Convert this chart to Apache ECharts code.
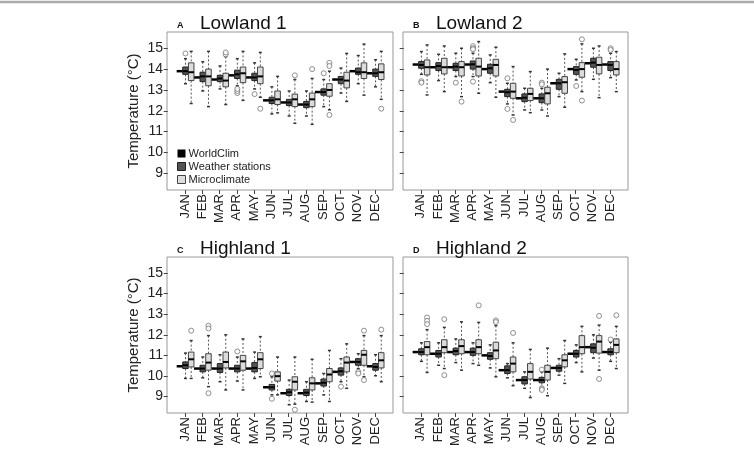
<!DOCTYPE html>
<html>
<head>
<meta charset="utf-8">
<script src="https://cdn.jsdelivr.net/npm/echarts@6/dist/echarts.min.js"></script>
<style>
  html, body { margin: 0; padding: 0; background: #fff; }
  #chart { width: 754px; height: 459px; }
</style>
</head>
<body>
<div id="chart"></div>
<script>
// month labels and y tick values
var months = ["JAN", "FEB", "MAR", "APR", "MAY", "JUN", "JUL", "AUG", "SEP", "OCT", "NOV", "DEC"];
var monthIdx = [1, 2, 3, 4, 5, 6, 7, 8, 9, 10, 11, 12];
var yTicks = [9, 10, 11, 12, 13, 14, 15];

// box rows are [lower whisker, q1, median, q3, upper whisker]; outliers are [month, value]
// --- A Lowland 1
var wcA = [13.9, 13.6, 13.5, 13.7, 13.6, 12.5, 12.4, 12.3, 12.9, 13.5, 13.9, 13.8];
var wsA = [
  [13.3, 13.75, 13.9, 14.1, 14.5], [12.95, 13.4, 13.65, 13.85, 14.35], [13.05, 13.4, 13.55, 13.7, 14.15],
  [13.2, 13.55, 13.75, 13.95, 14.5], [13.05, 13.45, 13.6, 13.8, 14.3], [11.85, 12.35, 12.5, 12.65, 13.15],
  [11.75, 12.25, 12.4, 12.55, 12.95], [11.75, 12.15, 12.3, 12.45, 12.95], [12.2, 12.75, 12.9, 13.05, 13.5],
  [12.85, 13.3, 13.5, 13.65, 14.05], [13.3, 13.75, 13.85, 14.05, 14.65], [13.15, 13.65, 13.8, 14.0, 14.45]
];
var wsOutA = [[1, 14.75], [4, 12.85], [4, 12.95], [4, 13.05], [5, 12.8], [9, 13.8]];
var mcA = [
  [12.35, 13.45, 13.85, 14.3, 14.85], [12.2, 13.2, 13.65, 14.0, 14.85], [12.3, 13.15, 13.45, 13.8, 14.6],
  [12.5, 13.35, 13.8, 14.1, 14.85], [12.65, 13.3, 13.65, 14.1, 14.8], [11.9, 12.3, 12.55, 12.95, 13.65],
  [11.4, 12.2, 12.55, 12.8, 13.5], [11.35, 12.2, 12.55, 12.85, 13.55], [12.05, 12.7, 13.0, 13.3, 13.9],
  [12.45, 13.1, 13.45, 13.85, 14.75], [12.75, 13.55, 13.85, 14.3, 15.2], [12.55, 13.5, 13.85, 14.25, 14.85]
];
var mcOutA = [[3, 14.7], [3, 14.8], [5, 12.1], [7, 13.7], [8, 14.0], [9, 14.3], [9, 14.15], [9, 11.8], [12, 12.1]];

// --- B Lowland 2
var wcB = [14.22, 14.09, 14.09, 14.22, 14.0, 12.92, 12.6, 12.6, 13.32, 14.0, 14.28, 14.22];
var wsB = [
  [13.75, 14.04, 14.2, 14.36, 14.84], [13.45, 13.93, 14.15, 14.31, 14.71], [13.64, 13.93, 14.12, 14.28, 14.76],
  [13.64, 14.0, 14.23, 14.39, 14.76], [13.35, 13.8, 14.04, 14.23, 14.68], [12.33, 12.68, 12.89, 13.03, 13.32],
  [12.04, 12.44, 12.63, 12.81, 13.08], [12.04, 12.39, 12.6, 12.81, 13.08], [12.68, 13.03, 13.32, 13.51, 13.8],
  [13.48, 13.75, 13.96, 14.12, 14.47], [13.51, 14.09, 14.31, 14.52, 15.0], [13.59, 13.93, 14.2, 14.36, 14.76]
];
var wsOutB = [[1, 13.42], [1, 13.35], [3, 13.35], [4, 15.1], [4, 15.0], [4, 14.95], [4, 13.4], [6, 13.56], [6, 12.09],
  [8, 13.35], [8, 13.27], [10, 13.19], [12, 15.0], [12, 14.92]];
var mcB = [
  [12.76, 13.72, 14.09, 14.44, 15.16], [12.92, 13.77, 14.09, 14.52, 15.11], [12.68, 13.67, 14.09, 14.36, 15.0],
  [12.84, 13.67, 14.12, 14.52, 15.32], [12.65, 13.67, 14.2, 14.47, 15.05], [11.8, 12.6, 12.92, 13.32, 14.12],
  [11.91, 12.49, 12.81, 13.08, 13.88], [11.75, 12.33, 12.84, 13.13, 14.0], [12.17, 12.84, 13.37, 13.64, 14.73],
  [12.92, 13.61, 14.0, 14.31, 15.21], [12.63, 13.77, 14.2, 14.57, 15.11], [12.92, 13.72, 14.0, 14.36, 14.84]
];
var mcOutB = [[3, 12.44], [6, 11.56], [10, 15.43], [10, 12.49]];

// --- C Highland 1
var wcC = [10.47, 10.36, 10.36, 10.36, 10.36, 9.45, 9.16, 9.16, 9.64, 10.2, 10.68, 10.47];
var wsC = [
  [9.88, 10.36, 10.52, 10.68, 11.11], [9.91, 10.2, 10.36, 10.52, 10.92], [9.72, 10.17, 10.36, 10.6, 11.03],
  [9.75, 10.2, 10.36, 10.52, 10.92], [9.88, 10.2, 10.39, 10.65, 11.16], [9.08, 9.32, 9.45, 9.59, 9.96],
  [8.6, 9.05, 9.21, 9.35, 9.8], [8.76, 9.05, 9.19, 9.35, 9.72], [9.08, 9.51, 9.67, 9.85, 10.12],
  [9.72, 10.04, 10.23, 10.39, 10.84], [10.36, 10.52, 10.68, 10.84, 11.08], [10.01, 10.28, 10.44, 10.6, 11.03]
];
var wsOutC = [[4, 11.19], [6, 10.12], [6, 8.89], [10, 9.48], [11, 10.2], [11, 10.12]];
var mcC = [
  [9.88, 10.44, 10.81, 11.16, 11.72], [9.48, 10.28, 10.65, 11.08, 11.96], [9.32, 10.39, 10.68, 11.16, 12.0],
  [9.32, 10.28, 10.71, 11.0, 11.8], [9.96, 10.36, 10.81, 11.13, 11.91], [9.08, 9.75, 9.99, 10.2, 10.92],
  [8.63, 9.32, 9.72, 9.96, 10.92], [8.73, 9.32, 9.64, 9.91, 10.81], [8.76, 9.72, 10.07, 10.36, 11.24],
  [9.4, 10.2, 10.65, 10.92, 11.56], [9.96, 10.52, 11.03, 11.24, 11.96], [9.72, 10.39, 10.76, 11.13, 11.96]
];
var mcOutC = [[1, 12.2], [2, 12.44], [2, 12.31], [2, 9.16], [7, 8.36], [11, 12.2], [11, 9.8], [12, 12.25]];

// --- D Highland 2
var wcD = [11.16, 11.08, 11.16, 11.16, 11.0, 10.28, 9.8, 9.8, 10.39, 11.08, 11.4, 11.16];
var wsD = [
  [10.71, 11.03, 11.16, 11.32, 11.61], [10.52, 10.92, 11.08, 11.24, 11.61], [10.65, 11.03, 11.21, 11.35, 11.8],
  [10.6, 11.0, 11.16, 11.35, 11.61], [10.39, 10.81, 10.97, 11.13, 11.51], [9.91, 10.12, 10.28, 10.49, 10.6],
  [9.4, 9.61, 9.8, 9.96, 10.2], [9.48, 9.67, 9.8, 9.93, 10.2], [10.04, 10.23, 10.39, 10.52, 10.84],
  [10.65, 10.92, 11.08, 11.24, 11.51], [10.87, 11.13, 11.37, 11.56, 12.0], [10.71, 11.03, 11.16, 11.32, 11.64]
];
var wsOutD = [[8, 10.31], [8, 9.4], [8, 9.32], [12, 11.77]];
var mcD = [
  [10.17, 11.03, 11.4, 11.67, 12.25], [10.36, 11.13, 11.4, 11.76, 12.36], [10.28, 11.08, 11.45, 11.76, 12.63],
  [10.52, 11.08, 11.4, 11.76, 12.6], [9.96, 10.84, 11.24, 11.64, 12.45], [9.53, 10.2, 10.6, 10.92, 11.61],
  [8.95, 9.85, 10.2, 10.6, 11.29], [9.04, 9.8, 10.2, 10.52, 11.35], [9.64, 10.44, 10.76, 11.03, 11.72],
  [10.2, 11.08, 11.4, 11.96, 12.41], [10.28, 11.11, 11.67, 11.96, 12.47], [10.36, 11.13, 11.51, 11.8, 12.41]
];
var mcOutD = [[1, 12.84], [1, 12.68], [1, 12.52], [2, 12.76], [2, 10.04], [4, 13.43], [5, 12.7], [5, 12.62],
  [6, 12.09], [11, 12.92], [11, 9.85], [12, 12.95]];

var panels = [
  { letter: "A", name: "Lowland 1", wc: wcA, ws: wsA, wsOut: wsOutA, mc: mcA, mcOut: mcOutA },
  { letter: "B", name: "Lowland 2", wc: wcB, ws: wsB, wsOut: wsOutB, mc: mcB, mcOut: mcOutB },
  { letter: "C", name: "Highland 1", wc: wcC, ws: wsC, wsOut: wsOutC, mc: mcC, mcOut: mcOutC },
  { letter: "D", name: "Highland 2", wc: wcD, ws: wsD, wsOut: wsOutD, mc: mcD, mcOut: mcOutD }
];

var WC_OFF = -0.3, WS_OFF = 0.03, MC_OFF = 0.36, BOX_W = 0.32;
var FONT = "Liberation Sans, Arial, sans-serif";
var grids = [
  { left: 167, top: 32, width: 226, height: 158 },
  { left: 403, top: 32, width: 225, height: 158 },
  { left: 167, top: 257, width: 226, height: 156 },
  { left: 403, top: 257, width: 225, height: 156 }
];

function boxRender(off, fill, stroke) {
  return function (params, api) {
    var m = api.value(0);
    var c = function (v) { return api.coord([m + off, v]); };
    var w = api.size([BOX_W, 0])[0];
    var lo = c(api.value(1)), q1 = c(api.value(2)), md = c(api.value(3)),
      q3 = c(api.value(4)), hi = c(api.value(5));
    var x = md[0];
    var dash = { stroke: "#555", lineWidth: 1, lineDash: [2, 2] };
    var cap = { stroke: "#333", lineWidth: 1.5 };
    return {
      type: "group",
      children: [
        { type: "line", shape: { x1: x, y1: hi[1], x2: x, y2: q3[1] }, style: dash },
        { type: "line", shape: { x1: x, y1: q1[1], x2: x, y2: lo[1] }, style: dash },
        { type: "line", shape: { x1: x - 1.5, y1: hi[1], x2: x + 1.5, y2: hi[1] }, style: cap },
        { type: "line", shape: { x1: x - 1.5, y1: lo[1], x2: x + 1.5, y2: lo[1] }, style: cap },
        { type: "rect", shape: { x: x - w / 2, y: q3[1], width: w, height: q1[1] - q3[1] },
          style: { fill: fill, stroke: stroke, lineWidth: 1 } },
        { type: "line", shape: { x1: x - w / 2, y1: md[1], x2: x + w / 2, y2: md[1] },
          style: { stroke: "#000", lineWidth: 2 } }
      ]
    };
  };
}

function wcRender(params, api) {
  var p = api.coord([api.value(0) + WC_OFF, api.value(1)]);
  var w = api.size([BOX_W + 0.04, 0])[0];
  return { type: "line", shape: { x1: p[0] - w / 2, y1: p[1], x2: p[0] + w / 2, y2: p[1] },
    style: { stroke: "#000", lineWidth: 2.5 } };
}

var outStyle = { color: "#fff", borderColor: "#666", borderWidth: 0.9 };

var titles = [], xAxes = [], yAxes = [], series = [];
panels.forEach(function (p, i) {
  var g = grids[i];
  titles.push({ text: p.letter, left: g.left + 5, top: g.top - 16,
    textStyle: { fontFamily: FONT, fontSize: 9, fontWeight: "bold", color: "#111" } });
  titles.push({ text: p.name, left: g.left + 28, top: g.top - 23,
    textStyle: { fontFamily: FONT, fontSize: 19, fontWeight: "normal", color: "#111" } });
  xAxes.push({
    type: "value", gridIndex: i, min: -0.04, max: 13.04,
    axisLine: { show: false }, splitLine: { show: false },
    axisTick: { show: true, length: 4, customValues: monthIdx, lineStyle: { color: "#444" } },
    axisLabel: { customValues: monthIdx, rotate: 90, margin: 4, fontSize: 13, fontFamily: FONT, color: "#222",
      formatter: function (v) { return months[Math.round(v) - 1] || ""; } }
  });
  var showLab = (i % 2 === 0);
  yAxes.push({
    type: "value", gridIndex: i, min: 8.2, max: 15.78,
    name: showLab ? "Temperature (°C)" : "", nameLocation: "middle", nameGap: 26,
    nameTextStyle: { fontFamily: FONT, fontSize: 15, color: "#222" },
    axisLine: { show: false }, splitLine: { show: false },
    axisTick: { show: true, length: 4, customValues: yTicks, lineStyle: { color: "#444" } },
    axisLabel: { show: showLab, customValues: yTicks, margin: 4, fontSize: 14, fontFamily: FONT, color: "#222" }
  });
  series.push({
    name: "WorldClim", type: "custom", xAxisIndex: i, yAxisIndex: i,
    itemStyle: { color: "#000" }, renderItem: wcRender, encode: { x: 0, y: 1 },
    data: p.wc.map(function (v, k) { return [monthIdx[k], v]; })
  });
  series.push({
    name: "Weather stations", type: "custom", xAxisIndex: i, yAxisIndex: i,
    itemStyle: { color: "#555" }, renderItem: boxRender(WS_OFF, "#555", "#222"), encode: { x: 0, y: [1, 2, 3, 4, 5] },
    data: p.ws.map(function (d, k) { return [monthIdx[k]].concat(d); })
  });
  series.push({
    name: "Microclimate", type: "custom", xAxisIndex: i, yAxisIndex: i,
    itemStyle: { color: "#ddd" }, renderItem: boxRender(MC_OFF, "#dcdcdc", "#444"), encode: { x: 0, y: [1, 2, 3, 4, 5] },
    data: p.mc.map(function (d, k) { return [monthIdx[k]].concat(d); })
  });
  series.push({
    name: "wsOut", type: "scatter", xAxisIndex: i, yAxisIndex: i, symbol: "circle", symbolSize: 5,
    itemStyle: outStyle, silent: true,
    data: p.wsOut.map(function (d) { return [d[0] + WS_OFF, d[1]]; })
  });
  series.push({
    name: "mcOut", type: "scatter", xAxisIndex: i, yAxisIndex: i, symbol: "circle", symbolSize: 5,
    itemStyle: outStyle, silent: true,
    data: p.mcOut.map(function (d) { return [d[0] + MC_OFF, d[1]]; })
  });
});

var myChart = echarts.init(document.getElementById("chart"), null, { renderer: "canvas" });
myChart.setOption({
  animation: false,
  backgroundColor: "#fff",
  title: titles,
  grid: grids.map(function (g) {
    return Object.assign({ show: true, borderColor: "#999", borderWidth: 1, backgroundColor: "transparent" }, g);
  }),
  xAxis: xAxes,
  yAxis: yAxes,
  legend: {
    orient: "vertical", left: 172, top: 143, icon: "rect", itemWidth: 8, itemHeight: 8, itemGap: 2,
    selectedMode: false,
    textStyle: { fontFamily: FONT, fontSize: 11, color: "#222", padding: [0, 0, 0, -2] },
    data: [
      { name: "WorldClim", itemStyle: { color: "#000" } },
      { name: "Weather stations", itemStyle: { color: "#555", borderColor: "#222", borderWidth: 1 } },
      { name: "Microclimate", itemStyle: { color: "#dcdcdc", borderColor: "#444", borderWidth: 1 } }
    ]
  },
  graphic: [
    { type: "line", shape: { x1: 0, y1: 2, x2: 754, y2: 2 }, style: { stroke: "#aaa", lineWidth: 2.5 } }
  ],
  series: series
});
</script>
</body>
</html>
